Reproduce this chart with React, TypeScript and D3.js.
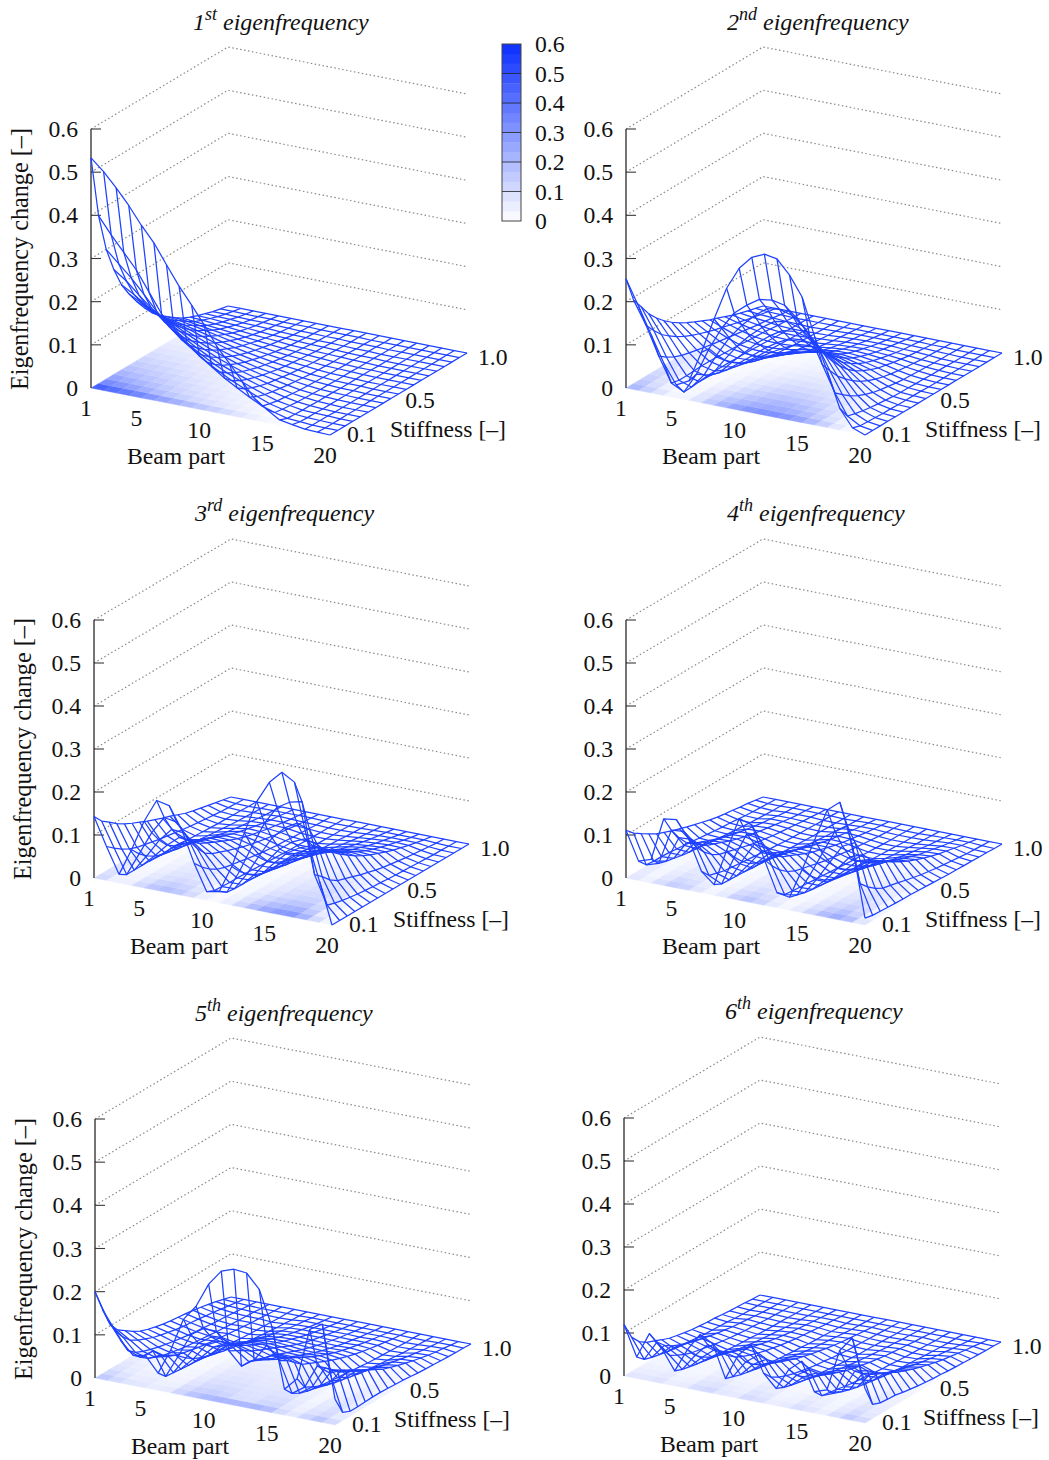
import React from "react";
import * as d3 from "d3";

// Axis values
const beamParts = d3.range(1, 21);
const stiffness = [0.1, 0.15, 0.2, 0.25, 0.3, 0.35, 0.4, 0.45, 0.5, 0.55, 0.6, 0.65, 0.7, 0.75, 0.8, 0.85, 0.9, 0.95, 1.0];
const zTicks = [0, 0.1, 0.2, 0.3, 0.4, 0.5, 0.6];
const beamTicks = [1, 5, 10, 15, 20];
const stiffTicks = [0.1, 0.5, 1.0];
const ordinals = ["1", "2", "3", "4", "5", "6"];
const suffixes = ["st", "nd", "rd", "th", "th", "th"];

// Values, eigenfrequency change x 1000.
// Modes 1, 2: one row per stiffness, 20 beam parts.
const mode1Rows = [
  [533,507,475,440,400,365,320,276,238,198,154,120,85,50,30,12,7,2,1,0],
  [388,350,315,280,235,190,160,135,110,90,70,53,37,22,13,5,3,1,0,0],
  [300,272,245,213,180,150,125,105,85,68,53,40,28,17,10,4,2,1,0,0],
  [243,222,195,170,145,122,102,85,69,55,43,32,22,13,8,3,2,1,0,0],
  [197,180,160,145,122,102,85,70,56,45,35,26,18,11,6,3,1,0,0,0],
  [165,150,135,120,102,85,71,58,47,37,29,21,15,9,5,2,1,0,0,0],
  [137,125,113,100,85,71,59,49,39,31,24,18,12,7,4,2,1,0,0,0],
  [112,103,93,83,70,59,49,40,32,25,20,15,10,6,3,2,1,0,0,0],
  [90,84,76,68,58,49,41,33,27,21,16,12,8,5,3,1,1,0,0,0],
  [74,68,62,55,48,40,33,27,22,17,13,10,6,4,2,1,1,0,0,0],
  [60,56,51,45,39,33,27,22,18,14,11,8,5,3,2,1,0,0,0,0],
  [47,44,40,35,31,26,22,18,14,11,9,6,4,3,2,1,0,0,0,0],
  [35,33,30,27,24,20,17,14,11,9,7,5,3,2,1,1,0,0,0,0],
  [27,26,23,21,18,15,13,11,8,7,5,4,3,2,1,0,0,0,0,0],
  [20,19,17,15,13,11,9,8,6,5,4,3,2,1,1,0,0,0,0,0],
  [14,13,12,10,9,8,6,5,4,3,3,2,1,1,0,0,0,0,0,0],
  [8,8,7,6,6,5,4,3,3,2,2,1,1,1,0,0,0,0,0,0],
  [4,4,3,3,3,2,2,2,1,1,1,1,0,0,0,0,0,0,0,0],
  [0,0,0,0,0,0,0,0,0,0,0,0,0,0,0,0,0,0,0,0],
];
const mode2Rows = [
  [253,195,135,75,30,45,117,200,277,329,360,373,368,336,291,205,130,50,11,0],
  [193,140,75,18,3,50,115,168,209,233,252,256,250,225,190,130,70,22,5,0],
  [167,118,62,14,4,38,90,135,170,198,220,224,216,192,158,105,55,17,4,0],
  [140,98,52,14,6,28,68,105,135,160,180,185,176,155,125,82,42,13,3,0],
  [120,84,45,15,8,22,52,80,108,130,148,152,144,125,100,65,32,10,2,0],
  [103,72,40,16,9,18,40,62,85,104,119,122,115,99,78,50,24,8,2,0],
  [89,62,36,16,9,14,30,48,66,82,95,98,92,78,60,38,18,6,1,0],
  [77,54,32,15,9,11,23,37,51,64,74,76,71,60,46,29,14,4,1,0],
  [67,47,28,14,8,9,18,29,40,50,58,60,56,47,36,22,11,3,1,0],
  [58,41,25,13,8,7,14,22,31,39,45,47,43,36,28,17,8,3,1,0],
  [50,35,22,12,7,6,10,17,23,30,35,36,33,28,21,13,6,2,0,0],
  [42,30,19,10,6,5,8,13,18,23,27,28,26,22,17,10,5,2,0,0],
  [35,25,16,9,5,4,6,10,14,18,21,22,20,17,13,8,4,1,0,0],
  [28,20,13,8,4,3,5,8,11,14,16,17,15,13,10,6,3,1,0,0],
  [21,15,10,6,3,2,4,6,8,10,12,12,11,9,7,4,2,1,0,0],
  [15,11,8,4,2,2,3,4,6,7,8,8,8,6,5,3,1,0,0,0],
  [10,7,5,3,2,1,2,3,4,5,5,5,5,4,3,2,1,0,0,0],
  [5,3,2,1,1,1,1,1,2,2,2,2,2,2,1,1,0,0,0,0],
  [0,0,0,0,0,0,0,0,0,0,0,0,0,0,0,0,0,0,0,0],
];
// Modes 3 to 6: one column per beam part, 19 stiffness values.
const mode3Cols = [
  [143,122,109,95,84,75,67,59,52,45,39,32,25,20,16,12,8,4,0],
  [79,65,52,42,35,31,27,23,20,17,14,11,9,7,5,3,2,1,0],
  [20,9,9,9,9,9,8,8,7,6,5,4,3,2,2,1,1,0,0],
  [83,63,48,37,30,26,22,19,16,13,11,9,7,5,4,3,2,1,0],
  [155,118,90,68,56,49,42,35,29,24,20,16,13,10,8,5,3,2,0],
  [209,159,121,92,75,65,56,48,40,33,27,22,18,14,10,7,5,2,0],
  [203,154,118,89,73,64,55,47,39,32,26,21,17,13,10,7,4,2,0],
  [153,116,89,67,55,48,41,35,29,24,20,16,13,10,8,5,3,2,0],
  [80,61,46,35,29,25,22,18,15,12,10,8,7,5,4,3,2,1,0],
  [20,12,11,10,10,9,8,7,6,5,4,3,3,2,2,1,1,0,0],
  [26,14,12,11,11,10,9,8,7,6,5,4,3,2,2,1,1,0,0],
  [90,68,52,40,32,28,24,20,17,14,12,10,8,6,5,3,2,1,0],
  [174,132,101,77,63,55,47,40,33,28,23,19,15,12,9,6,4,2,0],
  [253,192,147,111,91,79,68,58,48,40,33,27,22,17,13,9,6,3,0],
  [303,234,176,133,109,95,82,70,58,48,39,32,26,20,15,11,7,3,0],
  [332,252,193,146,120,105,90,76,63,52,43,35,28,22,17,12,7,3,0],
  [315,259,183,139,113,99,85,72,60,50,41,34,27,21,16,11,7,3,0],
  [190,95,80,62,50,44,38,32,27,22,18,15,12,9,7,5,3,1,0],
  [96,30,24,20,17,14,12,10,9,7,6,5,4,3,2,1,1,0,0],
  [0,0,0,0,0,0,0,0,0,0,0,0,0,0,0,0,0,0,0],
];
const mode4Cols = [
  [111,94,82,71,61,54,47,41,35,30,25,20,16,13,11,8,6,3,0],
  [45,26,24,24,23,21,19,17,15,13,11,9,8,6,4,3,2,1,0],
  [55,35,30,26,22,19,17,15,13,11,9,7,6,4,3,2,1,1,0],
  [155,118,90,68,56,49,42,35,29,24,20,16,13,10,8,5,3,2,0],
  [159,121,92,70,57,50,43,36,30,25,21,17,14,11,8,5,3,2,0],
  [118,90,68,52,42,37,32,27,22,18,15,12,10,8,6,4,3,1,0],
  [50,30,25,20,18,16,14,12,10,8,7,5,4,3,3,2,1,1,0],
  [25,16,15,14,13,11,10,9,8,6,5,4,3,2,2,1,1,0,0],
  [110,84,64,48,40,35,30,25,21,17,14,11,9,7,6,4,2,1,0],
  [190,144,110,84,68,59,51,43,36,30,25,20,16,13,10,7,4,2,0],
  [181,138,105,80,65,57,49,41,34,29,24,19,15,12,9,6,4,2,0],
  [106,81,61,47,38,33,29,24,20,17,14,11,9,7,5,3,2,1,0],
  [35,20,18,16,15,13,12,10,9,7,6,5,4,3,2,1,1,0,0],
  [30,25,20,17,15,13,12,10,9,7,6,5,4,3,2,1,1,0,0],
  [100,76,58,44,36,31,27,23,19,16,13,11,9,7,5,3,2,1,0],
  [175,133,102,77,63,55,47,40,33,28,23,19,15,12,9,6,4,2,0],
  [250,190,145,110,90,79,68,58,48,40,33,27,21,17,13,9,6,3,0],
  [274,208,159,121,99,86,74,62,52,43,36,29,23,18,14,10,6,3,0],
  [178,80,62,48,38,34,30,25,21,17,14,11,9,7,5,3,2,1,0],
  [16,12,11,10,9,8,8,7,6,5,4,3,3,2,2,1,1,0,0],
];
const mode5Cols = [
  [200,148,103,80,68,56,46,40,35,31,28,26,24,21,18,14,10,5,0],
  [141,105,80,62,52,44,37,32,28,24,21,19,17,14,12,9,6,3,0],
  [100,65,50,42,36,31,27,23,20,17,15,13,11,9,8,6,4,2,0],
  [70,55,42,34,28,24,20,17,15,13,11,9,8,6,5,4,3,1,0],
  [75,75,55,42,34,29,25,21,18,15,13,11,9,7,5,4,2,1,0],
  [40,22,20,18,16,15,13,11,10,9,8,6,5,4,3,2,1,1,0],
  [100,75,60,48,40,34,29,24,20,17,14,11,9,7,5,4,2,1,0],
  [176,130,100,85,70,62,55,47,40,33,27,22,18,14,10,7,5,2,0],
  [212,150,120,100,85,74,65,56,47,39,32,26,21,16,12,8,5,2,0],
  [269,150,120,100,85,75,66,57,48,40,33,27,21,16,12,8,5,2,0],
  [305,110,100,90,78,70,62,54,46,38,31,25,20,16,12,8,5,2,0],
  [315,80,80,75,68,62,56,49,42,35,29,24,19,15,11,8,5,2,0],
  [312,100,90,80,70,63,56,48,41,34,28,23,18,14,11,7,5,2,0],
  [280,140,110,95,80,70,60,51,43,36,29,24,19,15,11,8,5,2,0],
  [200,110,100,85,70,62,54,46,38,32,26,21,17,13,10,7,4,2,0],
  [60,40,30,24,20,18,16,14,12,10,8,6,5,4,3,2,1,1,0],
  [90,60,50,42,34,29,25,21,17,14,12,10,8,6,4,3,2,1,0],
  [210,115,100,85,70,60,50,42,35,29,24,20,16,12,9,6,4,2,0],
  [228,104,98,90,80,70,60,50,40,34,28,23,18,14,10,7,5,2,0],
  [60,19,11,11,12,13,13,12,11,10,8,6,5,4,3,2,1,1,0],
];
const mode6Cols = [
  [120,80,59,47,40,32,25,21,17,14,12,10,9,7,5,4,3,1,0],
  [50,34,28,24,20,17,15,13,11,9,8,7,6,4,3,2,2,1,0],
  [110,80,62,50,42,36,30,25,21,17,14,11,9,7,5,3,2,1,0],
  [80,55,45,36,30,26,22,18,15,12,10,8,7,5,4,3,2,1,0],
  [35,28,24,20,17,15,13,11,9,8,7,5,4,3,3,2,1,1,0],
  [90,66,52,41,34,29,24,20,17,14,12,10,8,6,4,3,2,1,0],
  [131,97,76,60,50,42,35,30,25,21,17,14,11,9,7,5,3,1,0],
  [115,85,67,53,44,37,31,26,22,18,15,12,10,8,6,4,3,1,0],
  [40,34,28,24,20,17,15,13,11,9,8,6,5,4,3,2,1,1,0],
  [100,74,58,46,38,32,27,23,19,16,13,11,9,7,5,3,2,1,0],
  [130,96,75,60,49,42,35,30,25,21,17,14,11,9,7,5,3,1,0],
  [70,50,40,33,27,23,19,16,14,11,9,7,6,5,4,3,2,1,0],
  [40,32,27,23,19,16,14,12,10,8,7,5,5,4,3,2,1,1,0],
  [90,66,52,41,34,29,24,20,17,14,12,10,8,6,5,3,2,1,0],
  [115,85,67,53,44,37,31,26,22,18,15,12,10,8,6,4,3,1,0],
  [50,30,27,24,20,17,15,13,11,9,8,6,5,4,3,2,1,1,0],
  [60,42,35,29,24,21,18,15,12,10,8,7,6,4,3,2,1,1,0],
  [157,110,88,72,60,51,42,36,30,25,20,16,13,10,8,5,3,1,0],
  [192,115,95,80,68,59,50,43,36,30,25,20,16,13,10,7,5,2,0],
  [80,33,26,24,23,19,16,13,11,9,8,6,5,4,3,2,1,1,0],
];

const surfaces: number[][][] = [
  mode1Rows,
  mode2Rows,
  d3.transpose(mode3Cols),
  d3.transpose(mode4Cols),
  d3.transpose(mode5Cols),
  d3.transpose(mode6Cols),
];

// Layout of each plot, in pixels
const layouts = [
  { ox: 91, oy: 388, h: 259, dx: [239, 47], ds: [137, -82], titleX: 193, titleY: 30 },
  { ox: 626, oy: 388, h: 259, dx: [239, 47], ds: [137, -82], titleX: 727, titleY: 30 },
  { ox: 94, oy: 878, h: 258, dx: [238, 47], ds: [137, -81], titleX: 195, titleY: 521 },
  { ox: 626, oy: 878, h: 258, dx: [239, 47], ds: [137, -81], titleX: 727, titleY: 521 },
  { ox: 95, oy: 1378, h: 259, dx: [240, 47], ds: [136, -81], titleX: 195, titleY: 1021 },
  { ox: 624, oy: 1376, h: 258, dx: [241, 47], ds: [136, -81], titleX: 725, titleY: 1019 },
];

const serif = "'Liberation Serif', 'Times New Roman', serif";
const fontSize = 23.7;
const meshColor = "#1f42ff";
const colour = d3
  .scaleLinear<string>()
  .domain([0, 0.6])
  .range(["#ffffff", "#0a2eff"])
  .interpolate(d3.interpolateRgb);

const Plot = ({ index }: { index: number }) => {
  const L = layouts[index];
  const rows = surfaces[index];
  const bx = d3.scaleLinear().domain([1, 20]).range([0, 1]);
  const sx = d3.scaleLinear().domain([0.1, 1]).range([0, 1]);
  const zy = d3.scaleLinear().domain([0, 0.6]).range([0, L.h]);
  const project = (b: number, s: number, z: number): [number, number] => [
    L.ox + bx(b) * L.dx[0] + sx(s) * L.ds[0],
    L.oy + bx(b) * L.dx[1] + sx(s) * L.ds[1] - zy(z),
  ];
  const line = d3.line<[number, number]>();
  const val = (j: number, i: number) => rows[j][i] / 1000;

  // base colour map (pm3d at base)
  const cells: React.ReactNode[] = [];
  for (let j = 0; j < stiffness.length - 1; j++) {
    for (let i = 0; i < beamParts.length - 1; i++) {
      const avg = (val(j, i) + val(j + 1, i) + val(j, i + 1) + val(j + 1, i + 1)) / 4;
      const poly = [
        project(beamParts[i], stiffness[j], 0),
        project(beamParts[i + 1], stiffness[j], 0),
        project(beamParts[i + 1], stiffness[j + 1], 0),
        project(beamParts[i], stiffness[j + 1], 0),
      ];
      cells.push(
        <polygon
          key={`${i}-${j}`}
          points={poly.map((p) => p.join(",")).join(" ")}
          fill={colour(avg)}
          stroke={colour(avg)}
          strokeWidth={0.4}
        />
      );
    }
  }

  const rowPaths = stiffness.map((s, j) =>
    line(beamParts.map((b, i) => project(b, s, val(j, i))))
  );
  const colPaths = beamParts.map((b, i) =>
    line(stiffness.map((s, j) => project(b, s, val(j, i))))
  );

  return (
    <g fontFamily={serif} fontSize={fontSize} fill="#111">
      <text x={L.titleX} y={L.titleY} fontStyle="italic" fontSize={24}>
        <tspan>{ordinals[index]}</tspan>
        <tspan dy={-10} fontSize={18}>{suffixes[index]}</tspan>
        <tspan dy={10} xmlSpace="preserve"> eigenfrequency</tspan>
      </text>

      {/* back walls */}
      {zTicks.filter((t) => t > 0).map((t) => (
        <path
          key={t}
          d={line([project(1, 0.1, t), project(1, 1, t), project(20, 1, t)]) as string}
          fill="none"
          stroke="#8a8a8a"
          strokeWidth={1.2}
          strokeDasharray="1.5 2.5"
        />
      ))}

      {cells}

      {/* z axis */}
      <line x1={L.ox} x2={L.ox} y1={L.oy} y2={L.oy - L.h} stroke="#3a3a3a" strokeWidth={1.4} />
      {zTicks.filter((t) => t > 0).map((t) => (
        <line
          key={t}
          x1={L.ox}
          x2={L.ox + 10}
          y1={L.oy - zy(t)}
          y2={L.oy - zy(t)}
          stroke="#3a3a3a"
          strokeWidth={1.1}
        />
      ))}

      {/* mesh */}
      <g fill="none" stroke={meshColor} strokeWidth={1.25} strokeLinejoin="round">
        {rowPaths.map((d, k) => <path key={`r${k}`} d={d as string} />)}
        {colPaths.map((d, k) => <path key={`c${k}`} d={d as string} />)}
      </g>

      {/* labels */}
      {zTicks.map((t) => (
        <text key={t} x={L.ox - 13} y={L.oy - zy(t)} dy="0.34em" textAnchor="end">
          {t === 0 ? "0" : t.toFixed(1)}
        </text>
      ))}
      {beamTicks.map((b) => {
        const [x, y] = project(b, 0.1, 0);
        return (
          <text key={b} x={x - 5} y={y + 20} dy="0.34em" textAnchor="middle">{b}</text>
        );
      })}
      {stiffTicks.map((s) => {
        const [x, y] = project(20, s, 0);
        const f = sx(s);
        return (
          <text key={s} x={x + 17 - 6 * f} y={y - 1 + 5 * f} dy="0.34em">{s.toFixed(1)}</text>
        );
      })}
      <text x={L.ox + 85} y={L.oy + 68} dy="0.34em" textAnchor="middle">Beam part</text>
      <text x={L.ox + 357} y={L.oy + 41} dy="0.34em" textAnchor="middle">Stiffness [–]</text>
      {index % 2 === 0 && (
        <text
          transform={`translate(${L.ox - 63},${L.oy - 129}) rotate(-90)`}
          textAnchor="middle"
          fontSize={24.2}
        >
          Eigenfrequency change [–]
        </text>
      )}
    </g>
  );
};

const ColorBar = () => {
  const y = d3.scaleLinear().domain([0, 0.6]).range([221, 44]);
  const bands = d3.range(0, 18).map((k) => k / 30);
  const x0 = 502;
  const x1 = 521;
  return (
    <g fontFamily={serif} fontSize={fontSize} fill="#111">
      {bands.map((b) => (
        <rect
          key={b}
          x={x0}
          width={x1 - x0}
          y={y(b + 1 / 30)}
          height={y(b) - y(b + 1 / 30) + 0.3}
          fill={colour(b + 1 / 60)}
        />
      ))}
      <rect x={x0} y={44} width={x1 - x0} height={177} fill="none" stroke="#444" strokeWidth={1} />
      {zTicks.map((t) => (
        <g key={t}>
          {t > 0 && t < 0.6 && (
            <line x1={x0} x2={x1} y1={y(t)} y2={y(t)} stroke="#222" strokeWidth={0.8} />
          )}
          <text x={535} y={y(t)} dy="0.34em">{t === 0 ? "0" : t.toFixed(1)}</text>
        </g>
      ))}
    </g>
  );
};

export default function App() {
  return (
    <svg
      width={1049}
      height={1460}
      style={{ position: "absolute", left: 0, top: 0, background: "#fff" }}
    >
      {layouts.map((_, i) => <Plot key={i} index={i} />)}
      <ColorBar />
    </svg>
  );
}
